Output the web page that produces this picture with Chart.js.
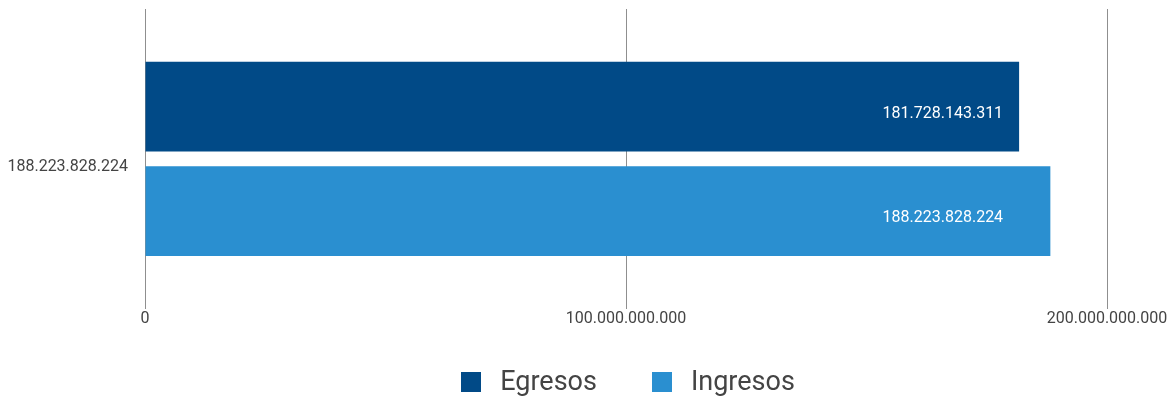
<!DOCTYPE html>
<html>
<head>
<meta charset="utf-8">
<script src="https://cdn.jsdelivr.net/npm/chart.js@4/dist/chart.umd.min.js"></script>
<style>
  html, body { margin: 0; padding: 0; background: #fff; }
  #wrap { position: relative; width: 1174px; height: 399px; }
  #leyenda {
    position: absolute; left: 147px; width: 962px; top: 368px;
    display: flex; justify-content: center;
    font: 27px/27px Roboto, sans-serif; color: #444;
  }
  #leyenda .item { display: flex; align-items: center; height: 27px; }
  #leyenda .item + .item { margin-left: 55px; }
  #leyenda .caja { width: 20px; height: 20px; margin-right: 19px; }
</style>
</head>
<body>
<div id="wrap">
  <canvas id="grafico"></canvas>
  <div id="leyenda"></div>
</div>
<script>
const categorias = ['188.223.828.224'];
const egresos = [181728143311];
const ingresos = [188223828224];
const ticksX = [0, 100000000000, 200000000000];
const colores = ['#014a87', '#2a8fd0'];

// separador de miles con punto
function formato(v) {
  return Math.round(v).toString().replace(/\B(?=(\d{3})+(?!\d))/g, '.');
}

// etiquetas blancas dentro de las barras
const etiquetasBarras = {
  id: 'etiquetasBarras',
  afterDatasetsDraw(chart) {
    const ctx = chart.ctx;
    const metas = chart.data.datasets.map((d, i) => chart.getDatasetMeta(i));
    ctx.save();
    ctx.font = '16px Roboto';
    ctx.fillStyle = '#ffffff';
    ctx.textAlign = 'right';
    ctx.textBaseline = 'middle';
    categorias.forEach((c, j) => {
      const finMin = Math.min(...metas.map(m => m.data[j].x));
      metas.forEach((m, i) => {
        const barra = m.data[j];
        ctx.fillText(formato(chart.data.datasets[i].data[j]), finMin - 16, barra.y + 7);
      });
    });
    ctx.restore();
  }
};

const grafico = new Chart(document.getElementById('grafico'), {
  type: 'bar',
  data: {
    labels: categorias,
    datasets: [
      { label: 'Egresos', data: egresos, backgroundColor: colores[0] },
      { label: 'Ingresos', data: ingresos, backgroundColor: colores[1] }
    ]
  },
  options: {
    indexAxis: 'y',
    responsive: true,
    maintainAspectRatio: false,
    animation: false,
    categoryPercentage: 0.696,
    barPercentage: 0.86,
    layout: { padding: { top: 9, right: 67, left: 0, bottom: 69 } },
    scales: {
      x: {
        min: 0,
        max: 200000000000,
        z: 1,
        afterBuildTicks(scale) {
          scale.ticks = ticksX.map(v => ({ value: v }));
        },
        afterFit(scale) { scale.paddingLeft = 0; scale.paddingRight = 0; },
        grid: { color: '#8f8f8f', drawTicks: false },
        border: { display: false },
        ticks: {
          color: '#444',
          font: { family: 'Roboto', size: 16 },
          padding: 1,
          maxRotation: 0,
          callback: v => formato(v)
        }
      },
      y: {
        grid: { display: false },
        border: { display: false },
        afterFit(scale) {
          scale.width = 145;
          scale.paddingTop = 0;
          scale.paddingBottom = 0;
        },
        ticks: {
          color: '#444',
          font: { family: 'Roboto', size: 16 },
          padding: 9,
          labelOffset: 8
        }
      }
    },
    plugins: {
      legend: { display: false },
      tooltip: { enabled: false }
    }
  },
  plugins: [etiquetasBarras]
});

// leyenda en html
document.getElementById('leyenda').innerHTML = grafico.data.datasets.map(d =>
  '<div class="item"><span class="caja" style="background:' + d.backgroundColor + '"></span>' + d.label + '</div>'
).join('');
</script>
</body>
</html>
